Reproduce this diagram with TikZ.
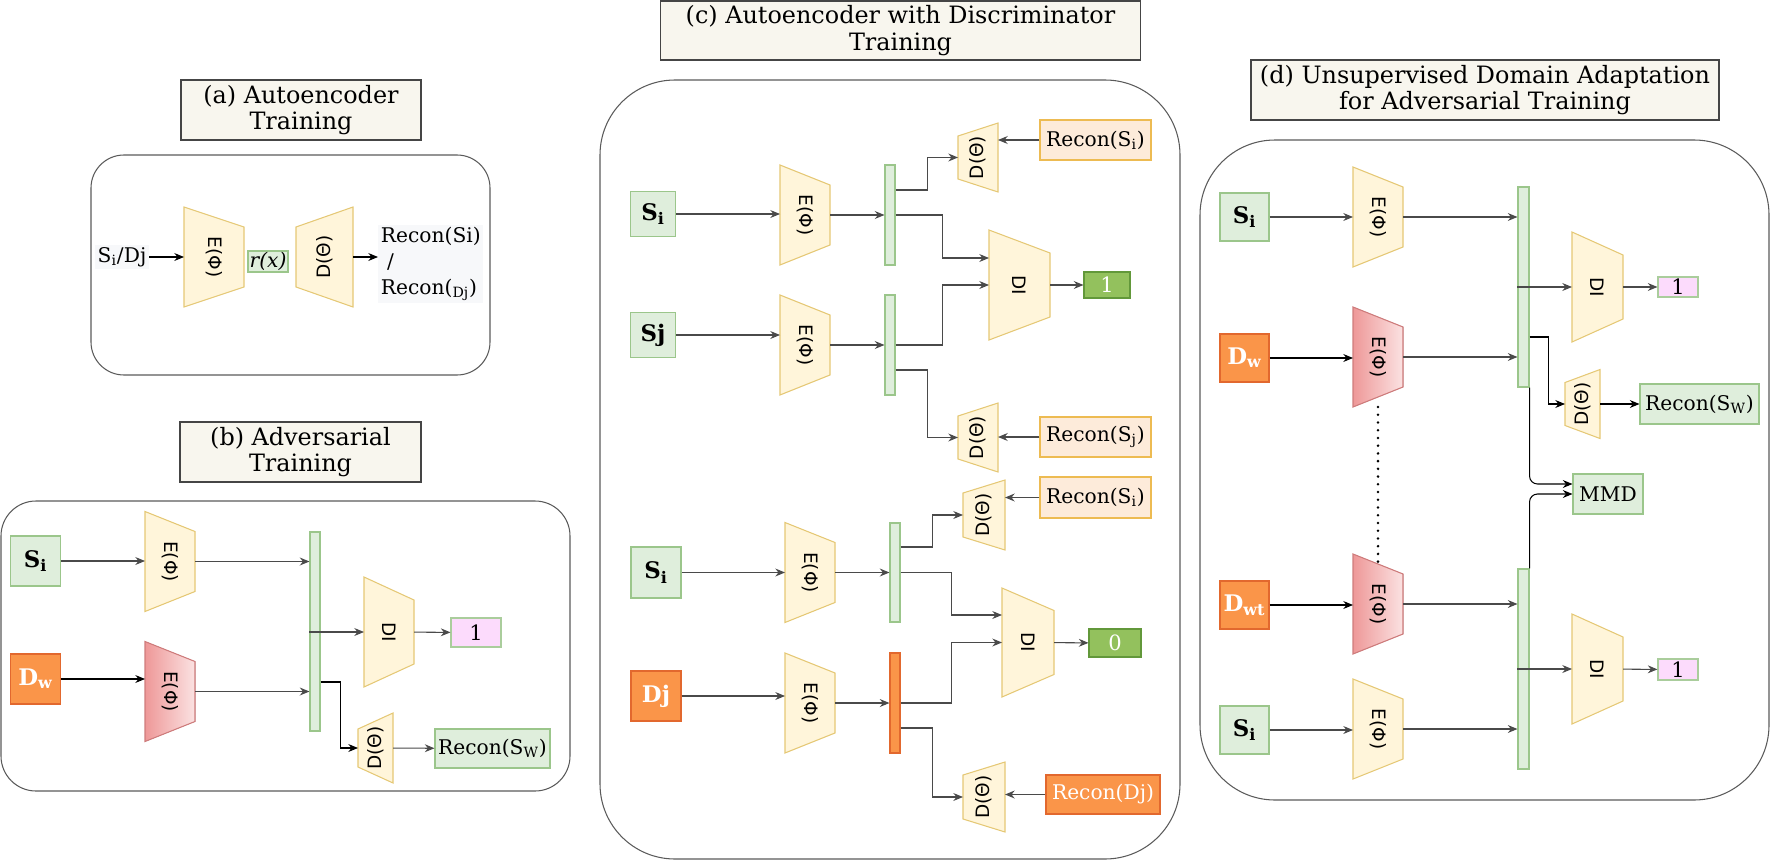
\documentclass[tikz,border=0pt]{standalone}
\usepackage{fontspec}
\setmainfont{DejaVu Serif}
\setsansfont{DejaVu Sans}
\usetikzlibrary{arrows.meta}

\definecolor{titlefill}{HTML}{F8F6EE}
\definecolor{titleline}{HTML}{454545}
\definecolor{framegray}{HTML}{5A5A5A}
\definecolor{linkgray}{HTML}{4A4A4A}
\definecolor{greenfill}{HTML}{DFEEDC}
\definecolor{greenline}{HTML}{9BC68B}
\definecolor{yellowfill}{HTML}{FFF5DA}
\definecolor{yellowline}{HTML}{E5C875}
\definecolor{orangefill}{HTML}{FA9549}
\definecolor{orangeline}{HTML}{E2682E}
\definecolor{peachfill}{HTML}{FDEBDA}
\definecolor{peachline}{HTML}{EDBB52}
\definecolor{okfill}{HTML}{93C15D}
\definecolor{okline}{HTML}{62983A}
\definecolor{pinkfill}{HTML}{FCDBFC}
\definecolor{pinkline}{HTML}{AACD9C}
\definecolor{redL}{HTML}{EE9898}
\definecolor{redR}{HTML}{FBE2E2}
\definecolor{redline}{HTML}{CF7C7C}
\definecolor{textbg}{HTML}{F7F8FA}

\tikzset{
  titlebox/.style={draw=titleline, fill=titlefill, line width=0.6pt, align=center, font=\fontsize{13.6}{14.9}\selectfont},
  panel/.style={draw=framegray, line width=0.6pt},
  sz/.style 2 args={minimum width=#1*0.02cm, minimum height=#2*0.02cm, inner sep=0pt},
  srcbox/.style={draw=greenline, fill=greenfill, line width=0.6pt, font=\fontsize{13}{15}\selectfont\bfseries},
  tgtbox/.style={draw=orangeline, fill=orangefill, text=white, line width=0.6pt, font=\fontsize{13}{15}\selectfont\bfseries},
  outbox/.style={draw=greenline, fill=greenfill, line width=0.6pt, font=\fontsize{11.5}{14}\selectfont},
  reconbox/.style={draw=peachline, fill=peachfill, line width=0.6pt, font=\fontsize{11.5}{14}\selectfont},
  reconbad/.style={draw=orangeline, fill=orangefill, text=white, line width=0.6pt, font=\fontsize{11.5}{14}\selectfont},
  okbox/.style={draw=okline, fill=okfill, text=white, line width=0.6pt, font=\fontsize{12}{14}\selectfont},
  pinkbox/.style={draw=pinkline, fill=pinkfill, line width=0.6pt, font=\fontsize{12}{14}\selectfont},
  latent/.style={draw=greenline, fill=greenfill, line width=0.6pt},
  latentbad/.style={draw=orangeline, fill=orangefill, line width=0.6pt},
  yenc/.style={draw=yellowline, fill=yellowfill, line width=0.6pt},
  renc/.style={draw=redline, left color=redL, right color=redR, line width=0.6pt},
  trapbox/.style={inner sep=0pt, outer sep=0pt},
  traptext/.style={font=\sffamily\fontsize{10.5}{12}\selectfont, inner sep=0pt},
  freetext/.style={fill=textbg, inner sep=1.5pt, font=\fontsize{11.5}{14.7}\selectfont},
  link/.style={draw=linkgray, line width=0.6pt, -{Stealth[length=5.5pt, width=4.5pt]}},
  blink/.style={link, draw=black},
  dotline/.style={draw=black, line width=1.6pt, line cap=round, dash pattern=on 0pt off 4.4pt},
}

\newcommand{\trapblock}[9]{%
  \filldraw[#1] (#3-#5,#4-#6) -- (#3+#5,#4-#7) -- (#3+#5,#4+#7) -- (#3-#5,#4+#6) -- cycle;
  \node[trapbox, minimum width={2*#5*0.02cm}, minimum height={2*max(#6,#7)*0.02cm}] (#2) at (#3,#4) {};
  \node[traptext, rotate=#8] (#2t) at (#2) {#9};}

\begin{document}
\begin{tikzpicture}[x=0.02cm, y=-0.02cm]
  \useasboundingbox (0,0) rectangle (1771,862);

  \draw[panel, rounded corners=0.66cm] (91,155) rectangle (490,375);
  \draw[panel, rounded corners=0.7cm] (1,501) rectangle (570,791);
  \draw[panel, rounded corners=1.5cm] (600,80) rectangle (1180,859);
  \draw[panel, rounded corners=1.5cm] (1200,140) rectangle (1769,800);

  \node[titlebox, sz={240}{60}] (titleA) at (301,110) {(a) Autoencoder\\Training};
  \node[freetext] (inA) at (122,257) {S\textsubscript{i}/Dj};
  \trapblock{yenc}{encA}{214}{257}{30}{50}{30}{-90}{E(Φ)}
  \node[outbox, sz={40}{21}, font=\fontsize{11.5}{13}\selectfont\itshape] (rxA) at (268,261.5) {r(x)};
  \trapblock{yenc}{decA}{324.5}{257}{28.5}{30}{50}{90}{D(Θ)}
  \node[freetext, anchor=west, align=left] (outA) at (378,264) {Recon(Si)\\\hspace{0.3em}/\\Recon(\textsubscript{Dj})};
  \draw[blink] (inA) -- (encA);
  \draw[blink] (decA) -- (outA.west |- decA);

  \node[titlebox, sz={241}{60}] (titleB) at (300.5,452) {(b) Adversarial\\Training};
  \node[srcbox, sz={50}{50}] (siB) at (35.5,561) {S\textsubscript{i}};
  \node[tgtbox, sz={50}{50}] (dwB) at (35.5,679) {D\textsubscript{w}};
  \trapblock{yenc}{encB1}{170}{561.5}{25}{50}{30}{-90}{E(Φ)}
  \trapblock{renc}{encB2}{170}{691.5}{25}{50}{30}{-90}{E(Φ)}
  \node[latent, sz={10}{199}] (barB) at (315,631.5) {};
  \trapblock{yenc}{diB}{389}{632}{25}{55}{32}{-90}{DI}
  \node[pinkbox, sz={50}{29}] (oneB) at (476,632.5) {1};
  \trapblock{yenc}{decB}{375.5}{748}{17.5}{19}{35}{90}{D(Θ)}
  \node[outbox, sz={115}{39}] (recB) at (492.5,748.5) {Recon(S\textsubscript{W})};
  \draw[link] (siB) -- (encB1.west |- siB);
  \draw[blink] (dwB) -- (encB2.west |- dwB);
  \draw[link] (encB1.east) -- (barB.west |- encB1.east);
  \draw[link] (encB2.east) -- (barB.west |- encB2.east);
  \draw[link] (barB.west |- diB.west) -- (diB.west);
  \draw[link] (diB) -- (oneB);
  \draw[blink] (barB.east |- 0,682) -- ++(20,0) |- (decB.west);
  \draw[link] (decB) -- (recB);

  \node[titlebox, sz={480}{59}] (titleC) at (900.5,30.5) {(c) Autoencoder with Discriminator\\Training};
  \node[srcbox, sz={45}{45}] (cSi1) at (653,214) {S\textsubscript{i}};
  \trapblock{yenc}{cEnc1}{805}{215}{25}{50}{30}{-90}{E(Φ)}
  \node[latent, sz={10}{100}] (cBar1) at (890,215) {};
  \trapblock{yenc}{cDec1}{978}{157.5}{20}{21.5}{34.5}{90}{D(Θ)}
  \node[reconbox, sz={111}{40}] (cRec1) at (1095.5,140) {Recon(S\textsubscript{i})};
  \trapblock{yenc}{cDI1}{1019.5}{285}{30.5}{55}{32}{-90}{DI}
  \node[okbox, sz={46}{26}] (cOne1) at (1107,285) {1};
  \node[srcbox, sz={45}{45}] (cSj) at (653,335) {Sj};
  \trapblock{yenc}{cEnc2}{805}{345}{25}{50}{30}{-90}{E(Φ)}
  \node[latent, sz={10}{100}] (cBar2) at (890,345) {};
  \trapblock{yenc}{cDec2}{978}{437.5}{20}{21.5}{34.5}{90}{D(Θ)}
  \node[reconbox, sz={111}{40}] (cRec2) at (1095.5,437) {Recon(S\textsubscript{j})};
  \draw[link] (cSi1) -- (cEnc1.west |- cSi1);
  \draw[link] (cEnc1) -- (cBar1);
  \draw[link] (cBar1.east |- 0,190) -- ++(32,0) |- (cDec1.west);
  \draw[link] (cRec1) -- (cDec1.east |- cRec1);
  \draw[link] (cBar1.east) -- ++(47,0) |- (cDI1.west |- 0,258);
  \draw[link] (cSj) -- (cEnc2.west |- cSj);
  \draw[link] (cEnc2) -- (cBar2);
  \draw[link] (cBar2.east) -- ++(47,0) |- (cDI1.west);
  \draw[link] (cBar2.east |- 0,370) -- ++(32,0) |- (cDec2.west);
  \draw[link] (cRec2) -- (cDec2.east |- cRec2);
  \draw[link] (cDI1) -- (cOne1);

  \node[srcbox, sz={50}{51}] (cSi2) at (656,572.5) {S\textsubscript{i}};
  \trapblock{yenc}{cEnc3}{810}{572.5}{25}{50}{30}{-90}{E(Φ)}
  \node[latent, sz={10}{99}] (cBar3) at (895,572.5) {};
  \trapblock{yenc}{cDec3}{984}{515}{21}{22}{35}{90}{D(Θ)}
  \node[reconbox, sz={111}{41}] (cRec3) at (1095.5,497.5) {Recon(S\textsubscript{i})};
  \trapblock{yenc}{cDI2}{1028}{642.5}{26}{54.5}{32}{-90}{DI}
  \node[okbox, sz={52}{28}] (cZero) at (1115,643) {0};
  \node[tgtbox, sz={50}{50}] (cDj) at (656,696) {Dj};
  \trapblock{yenc}{cEnc4}{810}{703}{25}{50}{30}{-90}{E(Φ)}
  \node[latentbad, sz={10}{100}] (cBar4) at (895,703) {};
  \trapblock{yenc}{cDec4}{984}{797}{21}{22}{35}{90}{D(Θ)}
  \node[reconbad, sz={114}{39}] (cRec4) at (1103,794.5) {Recon(Dj)};
  \draw[link] (cSi2) -- (cEnc3.west |- cSi2);
  \draw[link] (cEnc3) -- (cBar3);
  \draw[link] (cBar3.east |- 0,547) -- ++(32,0) |- (cDec3.west);
  \draw[link] (cRec3) -- (cDec3.east |- cRec3);
  \draw[link] (cBar3.east) -- ++(51,0) |- (cDI2.west |- 0,615);
  \draw[link] (cDj) -- (cEnc4.west |- cDj);
  \draw[link] (cEnc4) -- (cBar4);
  \draw[link] (cBar4.east) -- ++(51,0) |- (cDI2.west);
  \draw[link] (cBar4.east |- 0,728) -- ++(32,0) |- (cDec4.west);
  \draw[link] (cRec4) -- (cDec4.east |- cRec4);
  \draw[link] (cDI2) -- (cZero);

  \node[titlebox, sz={468}{60}] (titleD) at (1485,90) {(d) Unsupervised Domain Adaptation\\for Adversarial Training};
  \node[srcbox, sz={49}{48}] (dSi1) at (1244.5,217) {S\textsubscript{i}};
  \trapblock{yenc}{dEnc1}{1378}{217}{25}{50}{30}{-90}{E(Φ)}
  \node[tgtbox, sz={49}{48}] (dDw) at (1244.5,358) {D\textsubscript{w}};
  \trapblock{renc}{dEnc2}{1378}{357}{25}{50}{30}{-90}{E(Φ)}
  \node[latent, sz={11}{200}] (dBar1) at (1523.5,287) {};
  \trapblock{yenc}{dDI1}{1597.5}{287}{25.5}{55}{32}{-90}{DI}
  \node[pinkbox, sz={40}{20}] (dOne1) at (1678,287) {1};
  \trapblock{yenc}{dDec}{1582.5}{404}{17.5}{21.5}{34.5}{90}{D(Θ)}
  \node[outbox, sz={119}{40}] (dRec) at (1699.5,404) {Recon(S\textsubscript{W})};
  \node[outbox, sz={70}{40}] (dMMD) at (1608,494) {MMD};
  \node[tgtbox, sz={49}{48}] (dDwt) at (1244.5,605) {D\textsubscript{wt}};
  \trapblock{renc}{dEnc3}{1378}{604}{25}{50}{30}{-90}{E(Φ)}
  \node[srcbox, sz={49}{48}] (dSi2) at (1244.5,730) {S\textsubscript{i}};
  \trapblock{yenc}{dEnc4}{1378}{729}{25}{50}{30}{-90}{E(Φ)}
  \node[latent, sz={11}{200}] (dBar2) at (1523.5,669) {};
  \trapblock{yenc}{dDI2}{1597.5}{669}{25.5}{55}{32}{-90}{DI}
  \node[pinkbox, sz={40}{21}] (dOne2) at (1678,669.5) {1};
  \draw[link] (dSi1) -- (dEnc1.west |- dSi1);
  \draw[link] (dEnc1.east) -- (dBar1.west |- dEnc1.east);
  \draw[blink] (dDw) -- (dEnc2.west |- dDw);
  \draw[link] (dEnc2.east) -- (dBar1.west |- dEnc2.east);
  \draw[link] (dBar1.west |- dDI1.west) -- (dDI1.west);
  \draw[link] (dDI1) -- (dOne1);
  \draw[blink] (dBar1.east |- 0,337) -- ++(19,0) |- (dDec.west);
  \draw[blink] (dDec) -- (dRec);
  \draw[blink, rounded corners=0.16cm] (dBar1.south east) |- (dMMD.west |- 0,484);
  \draw[blink, rounded corners=0.16cm] (dBar2.north east) |- (dMMD.west);
  \draw[dotline, shorten >=-0.18cm] (dEnc2.south) -- (dEnc3.north);
  \draw[blink] (dDwt) -- (dEnc3.west |- dDwt);
  \draw[link] (dEnc3.east) -- (dBar2.west |- dEnc3.east);
  \draw[link] (dSi2) -- (dEnc4.west |- dSi2);
  \draw[link] (dEnc4.east) -- (dBar2.west |- dEnc4.east);
  \draw[link] (dBar2.west |- dDI2.west) -- (dDI2.west);
  \draw[link] (dDI2) -- (dOne2);
\end{tikzpicture}
\end{document}
